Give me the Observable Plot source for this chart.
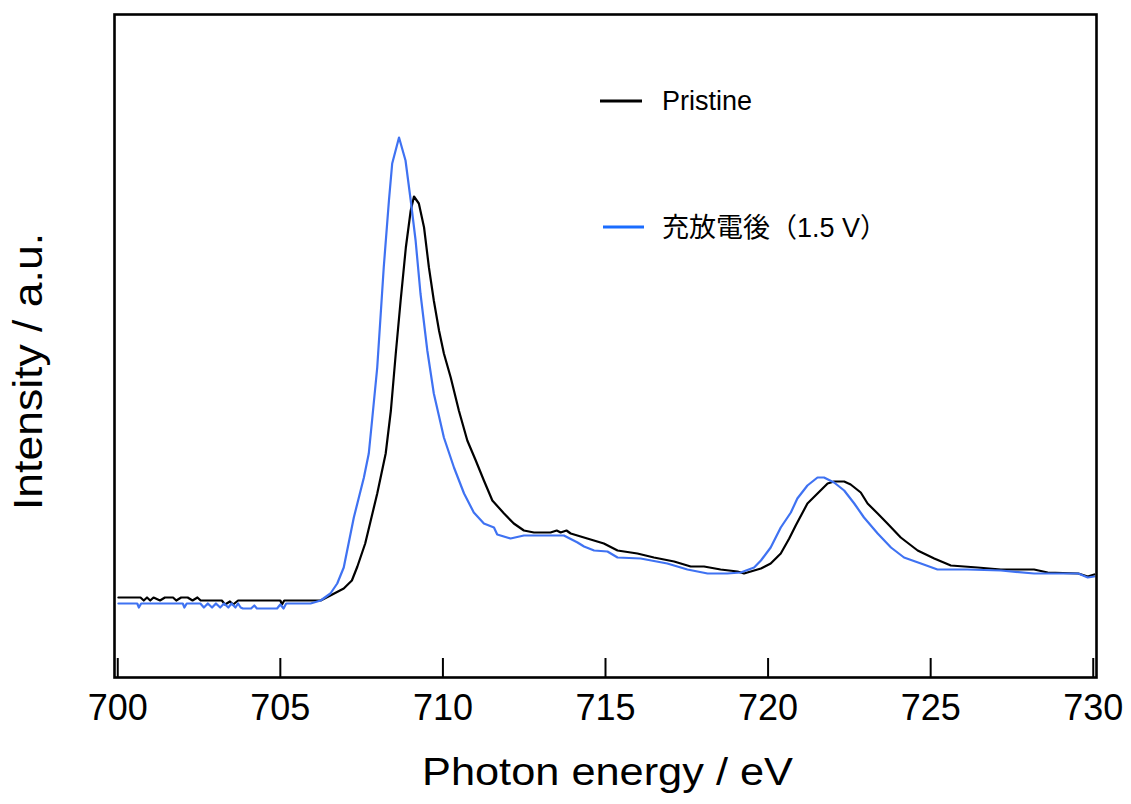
<!DOCTYPE html>
<html><head><meta charset="utf-8">
<script src="https://cdn.jsdelivr.net/npm/d3@7"></script>
<script src="https://cdn.jsdelivr.net/npm/@observablehq/plot@0.6"></script>
<style>
body{margin:0;background:#fff;}
#wrap{position:relative;width:1131px;height:804px;}
#wrap svg{display:block;}
#legend{position:absolute;left:0;top:0;pointer-events:none;}
</style></head>
<body><div id="wrap"></div>
<script>
const xTicks = [700, 705, 710, 715, 720, 725, 730];
const seriesNames = ["Pristine", "充放電後（1.5 V）"];
const seriesColors = ["#000000", "#3f72f2"];
const legendColors = ["#000000", "#1a6cff"];
const xLabel = "Photon energy / eV";
const yLabel = "Intensity / a.u.";

const pristineEnergy = [700.02,700.70,700.80,700.90,701.00,701.10,701.30,701.45,701.70,701.80,701.95,702.15,702.30,702.45,702.55,703.20,703.30,703.45,703.55,703.70,705.00,705.05,705.12,706.24,706.54,706.95,707.20,707.37,707.61,707.98,708.24,708.40,708.55,708.70,708.86,709.01,709.11,709.26,709.42,709.57,709.72,709.88,710.03,710.24,710.49,710.75,711.01,711.26,711.52,711.88,712.18,712.49,712.80,713.31,713.50,713.62,713.80,713.93,714.44,714.95,715.37,715.98,716.49,717.11,717.62,718.03,718.54,719.06,719.26,719.78,720.08,720.39,720.65,720.85,721.21,721.52,721.83,722.03,722.34,722.54,722.85,723.06,723.37,723.67,724.08,724.60,725.11,725.62,726.44,727.16,728.18,728.60,729.54,729.83,730.03];
const pristineIntensity = [80,80,77,80,77,80,77,80,80,77,80,80,77,80,77,77,73,76,73,77,77,73,77,77,82,89,97,111,134,184,224,267,324,377,430,467,481,474,450,410,377,347,324,300,267,237,217,197,177,164,154,147,145,145,147,145,147,144,139,134,127,124,120,116,111,111,108,106,104,109,114,124,139,152,174,184,194,196,196,193,185,174,164,154,140,127,119,112,110,108,108,105,104,101,103];

const cycledEnergy = [700.02,700.60,700.65,700.72,702.00,702.05,702.12,702.54,702.65,702.77,702.90,703.02,703.15,703.27,703.40,703.50,703.62,703.70,703.78,703.85,704.10,704.20,704.28,704.90,705.00,705.10,705.18,705.93,706.24,706.54,706.75,706.95,707.26,707.57,707.72,707.83,707.98,708.08,708.18,708.34,708.44,708.65,708.85,709.01,709.16,709.31,709.52,709.72,710.03,710.34,710.65,710.95,711.26,711.57,711.67,712.08,712.49,713.72,714.14,714.34,714.65,715.06,715.37,716.08,716.90,717.52,718.14,718.75,719.16,719.57,719.78,720.08,720.39,720.70,720.90,721.21,721.52,721.72,722.03,722.34,722.65,722.95,723.37,723.78,724.18,724.70,725.21,726.13,727.16,728.18,729.54,729.83,730.03];
const cycledIntensity = [74,74,70,74,74,70,74,74,70,74,70,74,70,74,70,74,70,74,70,69,69,72,69,69,73,69,74,74,77,84,94,110,160,200,224,260,310,360,410,477,514,540,517,477,437,384,327,284,240,210,184,165,154,150,143,139,142,142,135,131,127,126,120,119,114,108,104,104,105,110,117,130,150,165,179,192,200,200,195,187,174,160,144,130,120,114,108,108,107,104,104,100,101];

const rows = [
  ...pristineEnergy.map((e, i) => ({energy: e, intensity: pristineIntensity[i], series: seriesNames[0]})),
  ...cycledEnergy.map((e, i) => ({energy: e, intensity: cycledIntensity[i], series: seriesNames[1]}))
];

const font = '"Liberation Sans", Arial, "Noto Sans CJK JP", sans-serif';
const plotH = 804 - 14 - 127;

const chart = Plot.plot({
  width: 1131, height: 804,
  marginLeft: 114, marginRight: 35, marginTop: 14, marginBottom: 127,
  x: {domain: [699.9, 730.1]},
  y: {domain: [0, 663], axis: null},
  color: {domain: seriesNames, range: seriesColors},
  style: {fontFamily: font, background: "white", color: "black"},
  marks: [
    Plot.ruleX(xTicks, {x: d => d, stroke: "black", strokeWidth: 2, insetTop: plotH - 19}),
    Plot.line(rows, {x: "energy", y: "intensity", z: "series", stroke: "series", strokeWidth: 2.2}),
    Plot.frame({stroke: "black", strokeWidth: 2.6}),
    Plot.axisX(xTicks, {tickSize: 0, tickPadding: 17, fontSize: 36, label: null, tickFormat: d => String(d)})
  ]
});
const wrap = document.getElementById("wrap");
wrap.appendChild(chart);

// titles + legend overlay
const ov = d3.select(wrap).append("svg").attr("id", "legend").attr("width", 1131).attr("height", 804)
  .style("font-family", font);
ov.append("text").attr("x", 607.5).attr("y", 785).attr("text-anchor", "middle")
  .attr("font-size", 39).attr("textLength", 371).attr("lengthAdjust", "spacingAndGlyphs")
  .attr("fill", "black").text(xLabel);
ov.append("text").attr("transform", "translate(42,371.5) rotate(-90)").attr("text-anchor", "middle")
  .attr("font-size", 40).attr("textLength", 277).attr("lengthAdjust", "spacingAndGlyphs")
  .attr("fill", "black").text(yLabel);

const legItems = [
  {name: seriesNames[0], color: legendColors[0], x1: 600, x2: 642, ly: 101, ty: 109.5},
  {name: seriesNames[1], color: legendColors[1], x1: 603, x2: 644, ly: 227, ty: 236.5}
];
legItems.forEach(it => {
  ov.append("line").attr("x1", it.x1).attr("x2", it.x2).attr("y1", it.ly).attr("y2", it.ly)
    .attr("stroke", it.color).attr("stroke-width", 3);
  ov.append("text").attr("x", 662).attr("y", it.ty).attr("font-size", 27).attr("fill", "black").text(it.name);
});
</script>
</body></html>
